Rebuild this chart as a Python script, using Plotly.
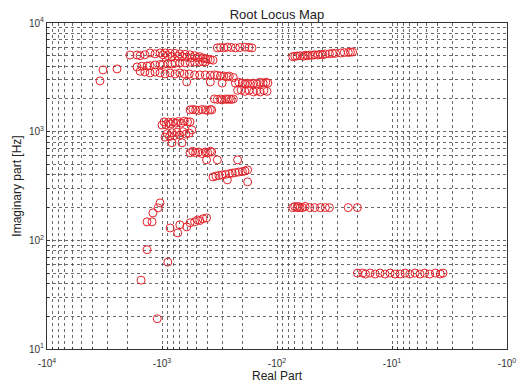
import plotly.graph_objects as go

# Real parts (negative) and imaginary parts [Hz] of the poles, grouped by locus branch
re_a = [-1900, -1650, -1550, -1410, -1270, -1150, -1040, -980, -940, -890, -850, -820, -770,
        -730, -700, -670, -630, -610, -570, -550, -520, -490, -470, -440, -420, -400, -380, -360]
im_a = [5080, 5080, 5000, 5100, 5300, 5200, 5300, 5100, 5300, 5000, 5250, 4900, 5250,
        4950, 5200, 4900, 5150, 4850, 5100, 4800, 5000, 4800, 4900, 4750, 4700, 4650, 4600, 4550]

re_b = [-1650, -1500, -1350, -1270, -1150, -1040, -980, -890, -820, -770, -700, -630, -570,
        -520, -470, -440, -420]
im_b = [3940, 4000, 4020, 4050, 4110, 4150, 4150, 4200, 4200, 4250, 4290, 4300, 4350,
        4380, 4380, 4400, 4380]

re_c = [-1550, -1410, -1270, -1150, -1040, -940, -850, -770, -700, -640, -580, -520, -470,
        -420, -380, -350, -330, -310, -290, -270, -260, -240]
im_c = [3600, 3540, 3470, 3540, 3470, 3400, 3470, 3400, 3470, 3400, 3400, 3330, 3330,
        3330, 3300, 3330, 3300, 3250, 3250, 3200, 3250, 3150]

re_d = [-230, -215, -200, -190, -180, -170, -160, -150, -141, -132, -125, -120,
        -220, -205, -190, -175, -160, -150, -140, -130, -122]
im_d = [2800, 2850, 2800, 2750, 2800, 2750, 2800, 2750, 2850, 2800, 2850, 2800,
        2400, 2420, 2350, 2400, 2320, 2380, 2320, 2400, 2350]

re_iso = [-3260, -2460, -3460, -610, -380, -300]
im_iso = [3700, 3780, 2930, 2870, 2870, 2800]

re_e = [-350, -330, -310, -300, -280, -270, -260, -250, -240]
im_e = [2000, 1980, 2000, 1960, 2000, 1980, 2000, 1980, 2000]

re_f = [-570, -540, -510, -480, -450, -420, -400, -380, -370]
im_f = [1585, 1600, 1585, 1570, 1600, 1585, 1570, 1600, 1585]

re_g = [-1000, -960, -920, -880, -850, -800, -760, -720, -680, -640, -600, -570]
im_g = [1150, 1230, 1160, 1220, 1180, 1230, 1200, 1240, 1200, 1250, 1230, 1230]

re_h = [-940, -900, -860, -820, -780, -740, -700, -660, -620, -580, -820, -670, -550]
im_h = [890, 960, 900, 980, 920, 990, 930, 1000, 950, 970, 790, 790, 1040]

re_i = [-570, -540, -510, -480, -450, -420, -400, -380, -370, -410, -330, -220]
im_i = [640, 660, 640, 650, 630, 650, 640, 660, 650, 550, 550, 550]

re_j = [-360, -340, -320, -300, -280, -260, -245, -230, -215, -200, -190, -180, -270, -180]
im_j = [383, 390, 395, 400, 405, 410, 415, 420, 425, 430, 435, 445, 360, 345]

re_k = [-1040, -1080, -1200, -1220, -1350, -850, -730, -700, -610, -570, -520, -490, -470,
        -440, -410, -1350, -890, -1520, -1100]
im_k = [221, 199, 179, 148, 148, 130, 117, 139, 133, 145, 148, 154, 152, 158, 161,
        82, 63, 43, 19]

re_l = [-330, -310, -290, -270, -250, -230, -210, -190, -175, -165]
im_l = [5900, 5950, 5900, 6000, 5950, 5900, 5950, 6000, 5950, 5900]

re_m = [-73, -70, -67, -63, -59, -57, -54, -52, -49, -47, -44, -42, -40, -38, -35, -33,
        -31, -28, -26, -24, -23, -22]
im_m = [4900, 4950, 4970, 5000, 4950, 5050, 5000, 5080, 5050, 5100, 5080, 5150, 5100,
        5190, 5200, 5250, 5250, 5300, 5350, 5350, 5400, 5410]

re_n = [-73, -70, -67, -65, -63, -60, -57, -52, -47, -42, -38, -35, -24, -20]
im_n = [200, 205, 200, 205, 200, 200, 205, 200, 200, 200, 200, 200, 200, 200]

re_o = [-20, -18, -17, -15.5, -14, -12.7, -11.5, -10.4, -9.4, -8.5, -7.7, -7, -6.3,
        -5.7, -5.2, -4.7, -4.2, -3.8, -3.6]
im_o = [50, 50, 49, 50, 49, 50, 49, 50, 49, 49, 50, 49, 50, 49, 50, 49, 50, 49, 50]

real_part = (re_a + re_b + re_c + re_d + re_iso + re_e + re_f + re_g + re_h + re_i + re_j
             + re_k + re_l + re_m + re_n + re_o)
imag_part = (im_a + im_b + im_c + im_d + im_iso + im_e + im_f + im_g + im_h + im_i + im_j
             + im_k + im_l + im_m + im_n + im_o)

x_tickvals = [1e4, 1e3, 1e2, 1e1, 1e0]
x_ticktext = ["-10<sup>4</sup>", "-10<sup>3</sup>", "-10<sup>2</sup>", "-10<sup>1</sup>", "-10<sup>0</sup>"]
y_tickvals = [1e1, 1e2, 1e3, 1e4]
y_ticktext = ["10<sup>1</sup>", "10<sup>2</sup>", "10<sup>3</sup>", "10<sup>4</sup>"]

# minor (2..9 x decade) grid positions
x_minor = [k * 10 ** d for d in range(0, 4) for k in range(2, 10)]
y_minor = [k * 10 ** d for d in range(1, 4) for k in range(2, 10)]

red = "#e3232a"
gridc = "rgba(70,70,70,0.8)"
font = "Liberation Sans, Arial, sans-serif"

fig = go.Figure()
fig.add_trace(go.Scatter(
    x=[-v for v in real_part], y=imag_part, mode="markers",
    marker=dict(symbol="circle-open", size=8, color=red, line=dict(width=1, color=red)),
    showlegend=False, hoverinfo="skip"))


def axis_style(minor_vals):
    return dict(
        type="log", showline=True, linecolor="#333", linewidth=1, mirror=True,
        showgrid=True, gridcolor=gridc, griddash="dot", gridwidth=1,
        ticks="inside", ticklen=3, tickcolor="#333", automargin=False,
        minor=dict(tickmode="array", tickvals=minor_vals, showgrid=True, gridcolor=gridc,
                   griddash="dot", gridwidth=1, ticks="inside", ticklen=2, tickcolor="#333"),
        zeroline=False, tickfont=dict(family=font, size=10, color="#333"),
    )


fig.update_layout(
    width=530, height=384,
    margin=dict(l=39, r=31, t=15, b=43),
    paper_bgcolor="white", plot_bgcolor="white",
    title=dict(text="Root Locus Map", x=0.5, xanchor="center", xref="paper",
               yref="container", y=0.994, yanchor="top", pad=dict(t=0, b=0),
               font=dict(family=font, size=13, color="#222")),
    xaxis=dict(axis_style(x_minor), range=[4, 0], tickvals=x_tickvals, ticktext=x_ticktext,
               ticklabelstandoff=5,
               title=dict(text="Real Part", font=dict(family=font, size=12, color="#222"), standoff=2)),
    yaxis=dict(axis_style(y_minor), range=[1, 4], tickvals=y_tickvals, ticktext=y_ticktext,
               title=dict(text="Imaginary part [Hz]", font=dict(family=font, size=12, color="#222"), standoff=4)),
)

fig.write_html("out.html")
